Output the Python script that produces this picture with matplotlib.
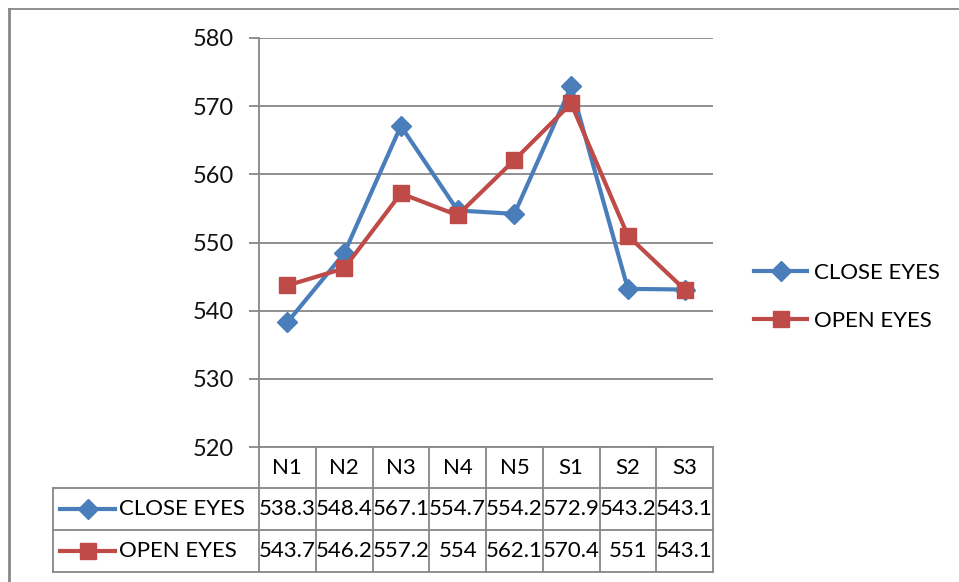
import matplotlib
matplotlib.use("Agg")
import matplotlib.pyplot as plt
import matplotlib.transforms as mtransforms
from matplotlib.lines import Line2D

categories = ["N1", "N2", "N3", "N4", "N5", "S1", "S2", "S3"]
close_eyes = [538.3, 548.4, 567.1, 554.7, 554.2, 572.9, 543.2, 543.1]
open_eyes = [543.7, 546.2, 557.2, 554, 562.1, 570.4, 551, 543.1]
series_names = ["CLOSE EYES", "OPEN EYES"]
y_ticks = [520, 530, 540, 550, 560, 570, 580]

plt.rcParams['font.family'] = ['Lato', 'DejaVu Sans']
blue = '#4A7EBB'
red = '#BE4B48'
grid_c = '#878787'
fs = 16

fig = plt.figure(figsize=(9.59, 5.82), dpi=100)
W, H = 959, 582
ax = fig.add_axes([259 / W, 1 - 447 / H, (713 - 259) / W, (447 - 38) / H])

x = list(range(len(categories)))
ax.plot(x, close_eyes, color=blue, lw=3, marker='D', ms=10.5, zorder=3)
ax.plot(x, open_eyes, color=red, lw=3, marker='s', ms=11, zorder=4)

ax.set_xlim(-0.5, len(categories) - 0.5)
ax.set_ylim(520, 580)
ax.set_yticks(y_ticks)
ax.set_xticks([])
ax.yaxis.grid(True, color=grid_c, lw=1.3)
ax.set_axisbelow(True)
for s in ['top', 'right', 'bottom']:
    ax.spines[s].set_visible(False)
ax.spines['left'].set_color(grid_c)
ax.spines['left'].set_linewidth(1.3)
ax.tick_params(axis='y', length=7, width=1.3, color=grid_c, labelsize=17, pad=11)
for lab in ax.get_yticklabels():
    lab.set_color('#111111')

# data table under the plot
tr = mtransforms.blended_transform_factory(ax.transData, ax.transAxes)
ah = 447 - 38
r0 = 0.0
r1 = -41 / ah
r2 = -83 / ah
r3 = -125 / ah
ppx = (713 - 259) / len(categories)
xl = -0.5 + (53 - 259) / ppx
xr = len(categories) - 0.5
kw = dict(transform=tr, color=grid_c, lw=1.3, clip_on=False)
for yy in [r1, r2, r3]:
    ax.plot([xl, xr], [yy, yy], **kw)
ax.plot([-0.5, xr], [r0, r0], **kw)
for i in range(len(categories) + 1):
    ax.plot([i - 0.5, i - 0.5], [r0, r3], **kw)
ax.plot([xl, xl], [r1, r3], **kw)

for i, c in enumerate(categories):
    ax.text(i, (r0 + r1) / 2, c, transform=tr, ha='center', va='center', fontsize=fs)
    ax.text(i, (r1 + r2) / 2, f"{close_eyes[i]:g}", transform=tr, ha='center', va='center', fontsize=fs)
    ax.text(i, (r2 + r3) / 2, f"{open_eyes[i]:g}", transform=tr, ha='center', va='center', fontsize=fs)

# legend keys inside the table
for yy, col, mk, ms, name in [((r1 + r2) / 2, blue, 'D', 10.5, series_names[0]),
                               ((r2 + r3) / 2, red, 's', 11, series_names[1])]:
    xa = -0.5 + (60 - 259) / ppx
    xb = -0.5 + (115 - 259) / ppx
    ax.plot([xa, xb], [yy, yy], color=col, lw=3, transform=tr, clip_on=False)
    ax.plot([(xa + xb) / 2], [yy], color=col, marker=mk, ms=ms, transform=tr, clip_on=False)
    ax.text(-0.5 + (119 - 259) / ppx, yy, name, transform=tr, ha='left', va='center', fontsize=fs)

# legend on the right
handles = [Line2D([], [], color=blue, lw=3, marker='D', ms=10.5),
           Line2D([], [], color=red, lw=3, marker='s', ms=11)]
fig.legend(handles, series_names, loc='center left', bbox_to_anchor=(745 / W, 1 - 297 / H),
           frameon=False, fontsize=fs, handlelength=2.4, handletextpad=0.3, labelspacing=1.25,
           borderaxespad=0)

# outer frame (top and left only)
fig.add_artist(Line2D([9 / W, 958 / W], [1 - 9 / H, 1 - 9 / H], color=grid_c, lw=1.3))
fig.add_artist(Line2D([9 / W, 9 / W], [0, 1 - 9 / H], color=grid_c, lw=2))

fig.savefig("out.png", dpi=100)
